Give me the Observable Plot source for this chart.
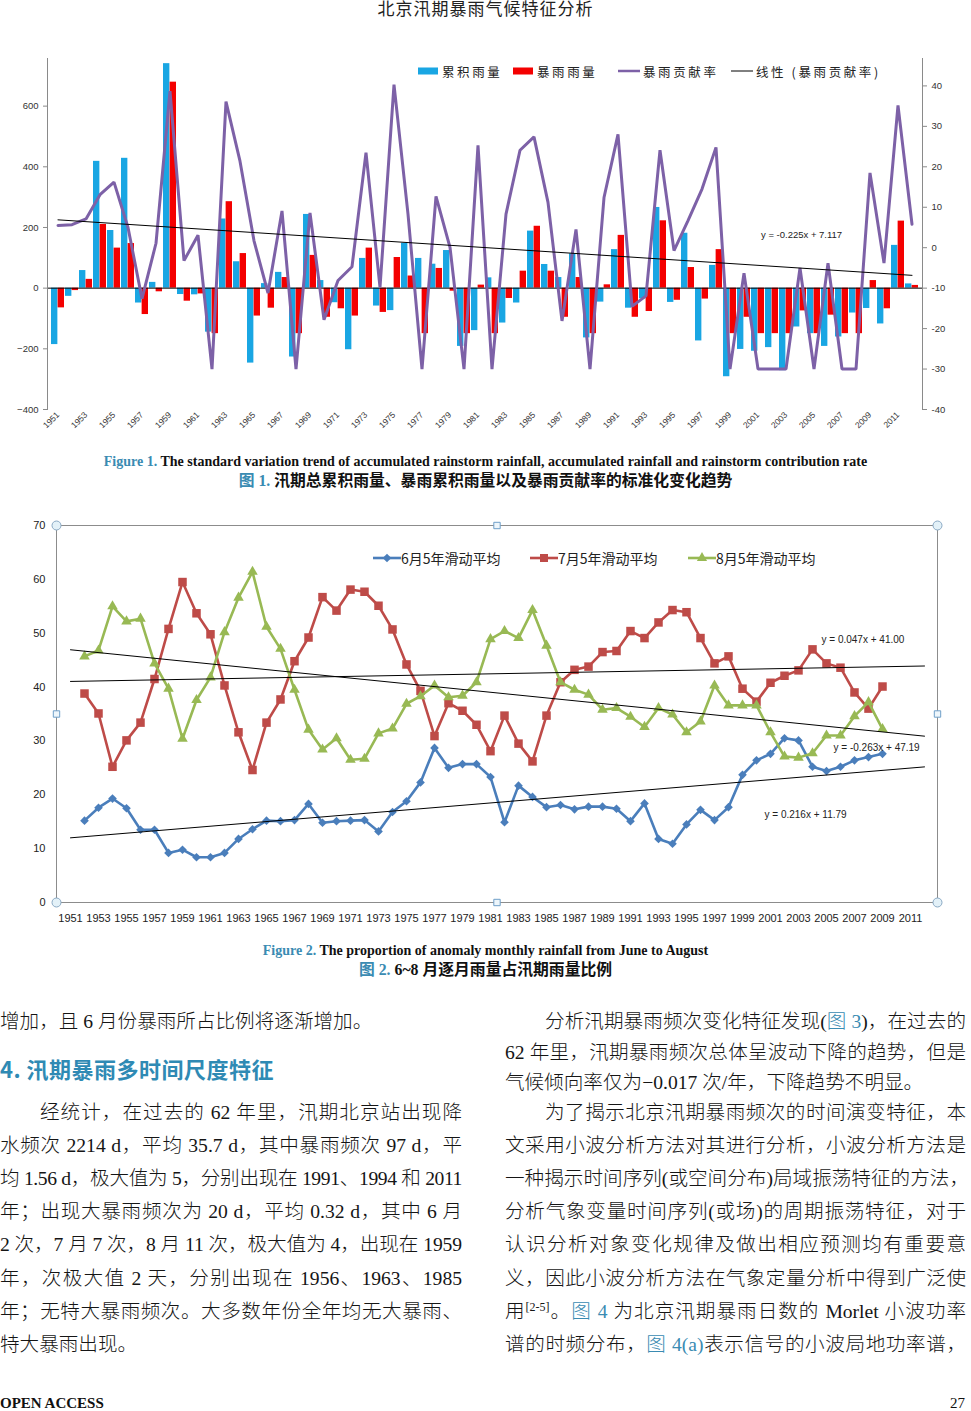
<!DOCTYPE html>
<html>
<head>
<meta charset="utf-8">
<script src="https://cdn.jsdelivr.net/npm/d3@7"></script>
<script src="https://cdn.jsdelivr.net/npm/@observablehq/plot@0.6"></script>
<style>
  html, body { margin: 0; padding: 0; background: #fff; }
  body { width: 971px; height: 1411px; position: relative; overflow: hidden;
         font-family: "Liberation Serif", "Noto Sans CJK SC", serif; color: #111; }
  .abs { position: absolute; white-space: nowrap; }
  .hdr { left: 0; width: 971px; top: 0; text-align: center; font-size: 17px; line-height: 20px;
         letter-spacing: 1px; color: #222; font-family: "Liberation Serif", "Noto Sans CJK SC", serif; }
  .cap { left: 0; width: 971px; text-align: center; font-weight: bold; line-height: 18px; }
  .capen { font-size: 14px; font-family: "Liberation Serif", serif; }
  .capzh { font-size: 15.8px; font-family: "Liberation Serif", "Noto Sans CJK SC", sans-serif; }
  .teal { color: #3a8bb2; }
  .leg { font-family: "Noto Sans CJK SC", sans-serif; color: #222; display: flex; align-items: center; }
  .line { font-size: 19.6px; line-height: 32px; height: 32px; font-weight: 300; color: #151515; }
  .j { text-align: justify; text-align-last: justify; }
  .ind { text-indent: 40px; }
  .h4 { font-family: "Noto Sans CJK SC", sans-serif; font-weight: bold; font-size: 22px; color: #2f8ab4;
        line-height: 30px; letter-spacing: 0.5px; }
  sup { font-size: 12px; line-height: 0; vertical-align: 7px; }
  .foot { font-size: 15px; line-height: 16px; }
</style>
</head>
<body>
<div class="abs hdr">北京汛期暴雨气候特征分析</div>

<div id="fig1" class="abs" style="left:0;top:50px;"></div>
<div id="leg1" class="abs leg" style="left:0;top:62px;height:18px;width:971px;"></div>

<div class="abs cap capen" style="top:453px;"><span class="teal">Figure 1.</span> The standard variation trend of accumulated rainstorm rainfall, accumulated rainfall and rainstorm contribution rate</div>
<div class="abs cap capzh" style="top:472px;"><span class="teal">图 1.</span> 汛期总累积雨量、暴雨累积雨量以及暴雨贡献率的标准化变化趋势</div>

<div id="fig2" class="abs" style="left:0;top:510px;"></div>
<div id="leg2" class="abs leg" style="left:0;top:548px;height:20px;width:971px;"></div>

<div class="abs cap capen" style="top:942px;"><span class="teal">Figure 2.</span> The proportion of anomaly monthly rainfall from June to August</div>
<div class="abs cap capzh" style="top:961px;"><span class="teal">图 2.</span> 6~8 月逐月雨量占汛期雨量比例</div>

<!-- left column -->
<div class="abs line" style="left:0;width:462px;top:1006px;">增加，且 6 月份暴雨所占比例将逐渐增加。</div>
<div class="abs h4" style="left:0;width:462px;top:1053px;">4. 汛期暴雨多时间尺度特征</div>
<div class="abs line j ind" style="left:0;width:462px;top:1097px;">经统计，在过去的 62 年里，汛期北京站出现降</div>
<div class="abs line j" style="left:0;width:462px;top:1130px;">水频次 2214 d，平均 35.7 d，其中暴雨频次 97 d，平</div>
<div class="abs line j" style="left:0;width:462px;top:1163px;">均 1.56 d，极大值为 5，分别出现在 1991、1994 和 2011</div>
<div class="abs line j" style="left:0;width:462px;top:1196px;">年；出现大暴雨频次为 20 d，平均 0.32 d，其中 6 月</div>
<div class="abs line j" style="left:0;width:462px;top:1229px;">2 次，7 月 7 次，8 月 11 次，极大值为 4，出现在 1959</div>
<div class="abs line j" style="left:0;width:462px;top:1263px;">年，次极大值 2 天，分别出现在 1956、1963、1985</div>
<div class="abs line j" style="left:0;width:462px;top:1296px;">年；无特大暴雨频次。大多数年份全年均无大暴雨、</div>
<div class="abs line" style="left:0;width:462px;top:1329px;">特大暴雨出现。</div>

<!-- right column -->
<div class="abs line j ind" style="left:505px;width:461px;top:1006px;">分析汛期暴雨频次变化特征发现(<span class="teal">图 3</span>)，在过去的</div>
<div class="abs line j" style="left:505px;width:461px;top:1037px;">62 年里，汛期暴雨频次总体呈波动下降的趋势，但是</div>
<div class="abs line" style="left:505px;width:461px;top:1067px;">气候倾向率仅为−0.017 次/年，下降趋势不明显。</div>
<div class="abs line j ind" style="left:505px;width:461px;top:1097px;">为了揭示北京汛期暴雨频次的时间演变特征，本</div>
<div class="abs line j" style="left:505px;width:461px;top:1130px;">文采用小波分析方法对其进行分析，小波分析方法是</div>
<div class="abs line j" style="left:505px;width:464px;top:1163px;">一种揭示时间序列(或空间分布)局域振荡特征的方法，</div>
<div class="abs line j" style="left:505px;width:461px;top:1196px;">分析气象变量时间序列(或场)的周期振荡特征，对于</div>
<div class="abs line j" style="left:505px;width:461px;top:1229px;">认识分析对象变化规律及做出相应预测均有重要意</div>
<div class="abs line j" style="left:505px;width:461px;top:1263px;">义，因此小波分析方法在气象定量分析中得到广泛使</div>
<div class="abs line j" style="left:505px;width:461px;top:1296px;">用<sup>[2-5]</sup>。<span class="teal">图 4</span> 为北京汛期暴雨日数的 Morlet 小波功率</div>
<div class="abs line j" style="left:505px;width:461px;top:1329px;">谱的时频分布，<span class="teal">图 4(a)</span>表示信号的小波局地功率谱，</div>

<div class="abs foot" style="left:0;top:1395px;font-weight:bold;">OPEN ACCESS</div>
<div class="abs foot" style="right:6px;top:1395px;">27</div>

<script>
// ---------------- Figure 1 data ----------------
const years = [1951,1952,1953,1954,1955,1956,1957,1958,1959,1960,
  1961,1962,1963,1964,1965,1966,1967,1968,1969,1970,
  1971,1972,1973,1974,1975,1976,1977,1978,1979,1980,
  1981,1982,1983,1984,1985,1986,1987,1988,1989,1990,
  1991,1992,1993,1994,1995,1996,1997,1998,1999,2000,
  2001,2002,2003,2004,2005,2006,2007,2008,2009,2010,
  2011,2012];
const yearLabels = [1951,1953,1955,1957,1959,1961,1963,1965,1967,1969,1971,1973,1975,1977,1979,
  1981,1983,1985,1987,1989,1991,1993,1995,1997,1999,2001,2003,2005,2007,2009,2011];

// 累积雨量 (standardized anomaly)
const accRain = [-186,-27,58,418,190,428,-49,19,740,-21,
  -22,-145,228,87,-247,15,52,-227,243,25,
  -48,-203,98,-59,-74,148,98,79,124,-192,
  -140,34,-115,-49,188,78,35,113,-164,-46,
  127,-66,-35,266,-47,181,-174,75,-292,-202,
  -208,-196,-272,-128,-150,-192,-161,-82,-67,-118,
  141,14];
// 暴雨雨量
const stormRain = [-65,-8,29,210,132,147,-87,-12,679,-43,
  -19,-150,285,114,-92,-66,35,-150,108,-96,
  -68,-92,132,-80,101,40,-150,65,-10,-150,
  10,-150,-34,56,204,56,-96,35,-150,11,
  174,-96,-77,222,-40,68,-36,127,-150,-96,
  -150,-150,-150,-75,-150,-89,-150,-150,25,-68,
  221,9];
// 暴雨贡献率 (right axis)
const stormRate = [5.5,5.7,7.1,13.1,16.2,5.0,-12.6,1.1,38.7,-3.2,
  3.1,-30,36.1,21.4,1.7,-11.2,9.1,-30,8.6,-17.8,
  -8.1,-4.7,23.5,-9.8,40.3,8.3,-30,12.7,0.1,-30,
  25.3,-30,8.3,24.1,27.4,11.2,-18.1,4.5,-30,12.4,
  28.0,-14.5,-11.9,24.1,-0.7,6.7,14.5,24.8,-30,-6.3,
  -30,-30,-30,-5.0,-30,-3.8,-30,-30,18.5,-3.8,
  35.2,5.8];
const leftTicks = [-400,-200,0,200,400,600];
const rightTicks = [-40,-30,-20,-10,0,10,20,30,40];
const rateTrend = {slope: -0.225, intercept: 7.117}; // y = -0.225x + 7.117, x = 1..62

// ---------------- Figure 2 data ----------------
const maYears = years.slice(1, 59); // 1952..2009
const juneMA = [15.2,17.6,19.3,17.5,13.5,13.5,9.2,9.8,8.4,8.4,
  9.2,11.8,13.6,15.2,15.1,15.3,18.3,14.8,15.1,15.2,
  15.3,13.2,16.8,18.8,22.3,28.7,25.0,25.7,25.7,23.3,
  14.9,21.7,19.6,17.7,18.1,17.3,17.8,17.8,17.4,15.1,
  18.4,11.8,10.9,14.5,17.2,15.3,17.7,23.7,26.4,27.6,
  30.5,30.1,25.2,24.4,25.2,26.4,27.0,27.6];
const julyMA = [38.8,35.1,25.2,30.1,33.4,41.5,50.8,59.5,53.7,49.8,
  40.3,31.6,24.6,33.4,37.7,44.8,49.2,56.7,54.2,58.1,
  57.7,55.1,50.7,44.2,39.3,30.9,37.0,35.6,33.0,28.1,
  34.7,29.5,26.2,34.7,40.9,43.2,43.8,46.5,46.7,50.4,
  49.1,52.0,54.3,53.9,49.1,44.4,45.7,39.7,37.3,40.8,
  42.1,43.1,47.0,44.4,43.6,39.0,36.0,40.1];
const augMA = [45.7,46.8,55.0,52.2,52.7,44.4,39.7,30.4,37.6,41.8,
  50.2,56.6,61.4,51.2,47.1,39.5,32.1,28.4,30.5,26.5,
  26.7,31.4,32.3,36.9,38.3,40.3,38.1,38.4,40.9,48.9,
  50.4,49.1,54.3,47.7,40.9,39.5,38.6,35.8,36.1,34.5,
  32.6,36.1,34.9,31.6,33.6,40.3,36.6,36.6,36.6,31.6,
  27.1,26.9,27.7,31.0,31.0,34.6,37.2,32.2];
const fig2Ticks = [0,10,20,30,40,50,60,70];
const trendJune = {slope: 0.216, intercept: 11.79};
const trendJuly = {slope: 0.047, intercept: 41.00};
const trendAug  = {slope: -0.263, intercept: 47.19};

// ---------------- Colours ----------------
const cAcc = "#19a6e3", cStorm = "#f40000", cRate = "#7d61a7";
const cJun = "#4a7ebb", cJul = "#be4b48", cAug = "#98b954";

// ---------------- Figure 1 ----------------
const K = 40 / 3;                 // 1 unit of right axis in left-axis units
const toLeft = r => (r + 10) * K; // right axis -10 sits on left axis 0
const rows1 = years.map((year, i) => ({year, acc: accRain[i], storm: stormRain[i], rate: stormRate[i]}));
const trendRows1 = [years[0], years[years.length - 1]].map(year => ({
  year, v: rateTrend.slope * (years.indexOf(year) + 1) + rateTrend.intercept
}));

const fig1 = Plot.plot({
  width: 971, height: 400,
  marginTop: 8, marginBottom: 41, marginLeft: 47, marginRight: 49,
  style: {fontFamily: "'Liberation Sans', Arial, sans-serif", fontSize: "9.5px", color: "#333", background: "transparent", overflow: "visible"},
  x: {type: "band", domain: years, padding: 0.06, label: null, axis: null},
  y: {domain: [-400, 757], label: null, axis: null},
  marks: [
    Plot.barY(rows1, {x: "year", y: "acc", fill: cAcc, insetRight: 6.63}),
    Plot.barY(rows1, {x: "year", y: "storm", fill: cStorm, insetLeft: 6.63}),
    Plot.ruleY([0], {stroke: "#000", strokeWidth: 1}),
    Plot.line(rows1, {x: "year", y: d => toLeft(d.rate), stroke: cRate, strokeWidth: 3, strokeLinejoin: "miter"}),
    Plot.line(trendRows1, {x: "year", y: d => toLeft(d.v), stroke: "#000", strokeWidth: 1}),
    Plot.frame({anchor: "left", stroke: "#8a8a8a"}),
    Plot.frame({anchor: "right", stroke: "#8a8a8a"}),
    Plot.axisY({anchor: "left", ticks: leftTicks, tickSize: 4, tickPadding: 5, stroke: "#8a8a8a", label: null}),
    Plot.axisY({anchor: "right", ticks: rightTicks.map(toLeft), tickFormat: v => String(Math.round(v / K - 10)),
      tickSize: 4, tickPadding: 5, stroke: "#8a8a8a", label: null}),
    Plot.axisX({ticks: yearLabels, tickFormat: d => String(d), tickRotate: -45, tickSize: 0, tickPadding: 4, fontSize: 8.5, label: null}),
    Plot.text(["y = -0.225x + 7.117"], {x: 2001, y: 177, text: d => d, textAnchor: "start", dx: 3, fontSize: 9.5, fill: "#222"})
  ]
});
document.getElementById("fig1").append(fig1);

// legend for figure 1
(function () {
  const leg = document.getElementById("leg1");
  const items = [
    {left: 418, kind: "rect", color: cAcc, label: "累积雨量"},
    {left: 513, kind: "rect", color: cStorm, label: "暴雨雨量"},
    {left: 618, kind: "line", color: cRate, w: 2.5, label: "暴雨贡献率"},
    {left: 731, kind: "line", color: "#000", w: 1, label: "线性 (暴雨贡献率)"}
  ];
  for (const it of items) {
    const d = document.createElement("div");
    d.style.cssText = `position:absolute;left:${it.left}px;top:0;height:18px;display:flex;align-items:center;font-size:12.5px;letter-spacing:2.6px;`;
    const sw = it.kind === "rect"
      ? `<svg width="21" height="18"><rect x="0" y="5.5" width="20" height="7" fill="${it.color}"/></svg>`
      : `<svg width="22" height="18"><line x1="0" x2="22" y1="9" y2="9" stroke="${it.color}" stroke-width="${it.w}"/></svg>`;
    d.innerHTML = sw + `<span style="margin-left:3px">${it.label}</span>`;
    leg.append(d);
  }
})();

// ---------------- Figure 2 ----------------
const rows2 = maYears.map((year, i) => ({year, jun: juneMA[i], jul: julyMA[i], aug: augMA[i]}));
const ends = [years[0], years[years.length - 1]];
const trendRows2 = [
  ...ends.map(year => ({s: "jun", year, v: trendJune.slope * (years.indexOf(year) + 1) + trendJune.intercept})),
  ...ends.map(year => ({s: "jul", year, v: trendJuly.slope * (years.indexOf(year) + 1) + trendJuly.intercept})),
  ...ends.map(year => ({s: "aug", year, v: trendAug.slope * (years.indexOf(year) + 1) + trendAug.intercept}))
];
const handle = {fill: "#e3f1f8", stroke: "#8aa9c4", strokeWidth: 1};

const fig2 = Plot.plot({
  width: 971, height: 430,
  marginTop: 15, marginBottom: 38, marginLeft: 56, marginRight: 34,
  style: {fontFamily: "'Liberation Sans', Arial, sans-serif", fontSize: "11px", color: "#222", background: "transparent", overflow: "visible"},
  x: {type: "band", domain: years, padding: 0, label: null, axis: null},
  y: {domain: [0, 70], label: null, axis: null},
  marks: [
    Plot.frame({stroke: "#8c8c8c"}),
    Plot.line(rows2, {x: "year", y: "jun", stroke: cJun, strokeWidth: 2.6}),
    Plot.dot(rows2, {x: "year", y: "jun", symbol: "diamond2", r: 3.9, fill: cJun}),
    Plot.line(rows2, {x: "year", y: "jul", stroke: cJul, strokeWidth: 2.6}),
    Plot.dot(rows2, {x: "year", y: "jul", symbol: "square", r: 4.8, fill: cJul}),
    Plot.line(rows2, {x: "year", y: "aug", stroke: cAug, strokeWidth: 2.6}),
    Plot.dot(rows2, {x: "year", y: "aug", symbol: "triangle", r: 3.9, fill: cAug}),
    Plot.line(trendRows2, {x: "year", y: "v", z: "s", stroke: "#000", strokeWidth: 1}),
    Plot.axisY({ticks: fig2Ticks, tickSize: 0, tickPadding: 11, label: null}),
    Plot.axisX({ticks: yearLabels, tickFormat: d => String(d), tickSize: 0, tickPadding: 12, label: null}),
    Plot.text(["y = 0.047x + 41.00"], {x: 2005, y: 48.8, text: d => d, textAnchor: "start", dx: -5, fontSize: 10, fill: "#222"}),
    Plot.text(["y = -0.263x + 47.19"], {x: 2005, y: 28.8, text: d => d, textAnchor: "start", dx: 7, fontSize: 10, fill: "#222"}),
    Plot.text(["y = 0.216x + 11.79"], {x: 2001, y: 16.3, text: d => d, textAnchor: "start", dx: -6, fontSize: 10, fill: "#222"}),
    // plot-area selection handles
    ...["top-left", "top-right", "bottom-left", "bottom-right"].map(a =>
      Plot.dot([0], {frameAnchor: a, r: 4.5, symbol: "circle", ...handle})),
    ...["top", "bottom", "left", "right"].map(a =>
      Plot.dot([0], {frameAnchor: a, r: 3.6, symbol: "square", fill: "#eef6fb", stroke: "#6f9fc8", strokeWidth: 1}))
  ]
});
document.getElementById("fig2").append(fig2);

// legend for figure 2
(function () {
  const leg = document.getElementById("leg2");
  const items = [
    {left: 373, color: cJun, sym: d3.symbolDiamond2, size: 48, label: "6月5年滑动平均"},
    {left: 530, color: cJul, sym: d3.symbolSquare, size: 64, label: "7月5年滑动平均"},
    {left: 688, color: cAug, sym: d3.symbolTriangle, size: 45, label: "8月5年滑动平均"}
  ];
  for (const it of items) {
    const d = document.createElement("div");
    d.style.cssText = `position:absolute;left:${it.left}px;top:0;height:20px;display:flex;align-items:center;font-size:14px;`;
    const path = d3.symbol(it.sym, it.size)();
    d.innerHTML = `<svg width="28" height="20"><line x1="0" x2="28" y1="10" y2="10" stroke="${it.color}" stroke-width="2.6"/>` +
      `<path d="${path}" transform="translate(14,10)" fill="${it.color}"/></svg><span>${it.label}</span>`;
    leg.append(d);
  }
})();

// tighten body lines that are wider than their column so that nothing spills over
document.querySelectorAll(".line").forEach(el => {
  let ls = 0;
  while (el.scrollWidth > el.clientWidth && ls > -2) {
    ls -= 0.1;
    el.style.letterSpacing = ls.toFixed(2) + "px";
  }
});
</script>
</body>
</html>
